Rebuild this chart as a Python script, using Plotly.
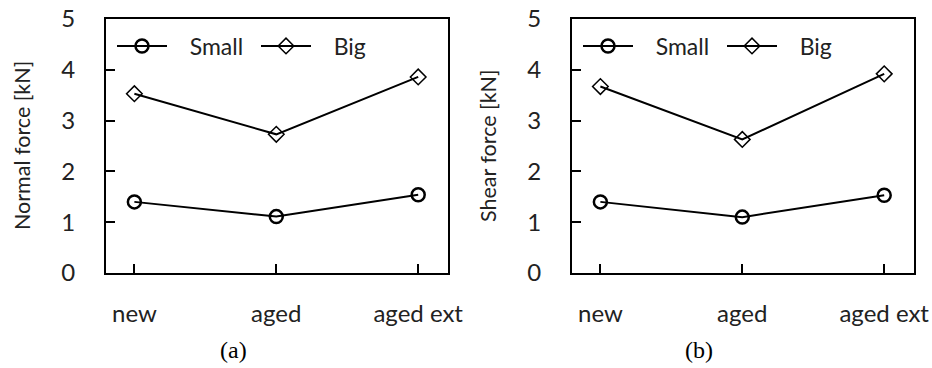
import plotly.graph_objects as go

categories = ["new", "aged", "aged ext"]
normal_small = [1.40, 1.11, 1.54]
normal_big = [3.53, 2.73, 3.86]
shear_small = [1.40, 1.10, 1.53]
shear_big = [3.67, 2.63, 3.92]
y_ticks = [0, 1, 2, 3, 4, 5]
series_names = ["Small", "Big"]
captions = ["(a)", "(b)"]
y_titles = ["Normal force [kN]", "Shear force [kN]"]

FONT = "Lato"
TXT = "#222"
PAD = "\u00a0\u00a0\u00a0"
fig = go.Figure()

xpos = list(range(len(categories)))
panels = [(normal_small, normal_big, "x", "y", "legend"),
          (shear_small, shear_big, "x2", "y2", "legend2")]
for small, big, xa, ya, lg in panels:
    fig.add_trace(go.Scatter(x=xpos, y=small, name=PAD + series_names[0], mode="lines+markers",
                             xaxis=xa, yaxis=ya, legend=lg,
                             line=dict(color="black", width=2),
                             marker=dict(symbol="circle-open", size=13, color="black",
                                         line=dict(width=2.5, color="black"))))
    fig.add_trace(go.Scatter(x=xpos, y=big, name=PAD + series_names[1], mode="lines+markers",
                             xaxis=xa, yaxis=ya, legend=lg,
                             line=dict(color="black", width=2),
                             marker=dict(symbol="diamond-open", size=12, color="black",
                                         line=dict(width=1.5, color="black"))))

xcommon = dict(range=[-0.2, 2.21], tickvals=xpos, ticktext=categories,
               ticks="inside", ticklen=9, tickwidth=1.5, tickcolor="black",
               showline=True, linecolor="black", linewidth=2, mirror=True,
               showgrid=False, zeroline=False, ticklabelstandoff=18, automargin=False,
               tickfont=dict(family=FONT, size=24, color=TXT))
ycommon = dict(range=[0, 5], tickvals=y_ticks,
               ticks="inside", ticklen=9, tickwidth=1.5, tickcolor="black",
               showline=True, linecolor="black", linewidth=2, mirror=True,
               showgrid=False, zeroline=False, ticklabelstandoff=24, automargin=False,
               tickfont=dict(family=FONT, size=24, color=TXT))

ydom = [1 - 273 / 368, 1 - 19 / 368]
legcommon = dict(orientation="h", xanchor="left", yanchor="middle",
                 bgcolor="rgba(0,0,0,0)", font=dict(family=FONT, size=23, color=TXT),
                 entrywidth=79, itemwidth=50)
fig.update_layout(
    width=932, height=368,
    margin=dict(l=0, r=0, t=0, b=0, autoexpand=False),
    plot_bgcolor="white", paper_bgcolor="white",
    xaxis=dict(domain=[106 / 932, 448 / 932], anchor="y", **xcommon),
    yaxis=dict(domain=ydom, anchor="x", **ycommon),
    xaxis2=dict(domain=[572 / 932, 914 / 932], anchor="y2", **xcommon),
    yaxis2=dict(domain=ydom, anchor="x2", **ycommon),
    legend=dict(x=112 / 932, y=1 - 46 / 368, **legcommon),
    legend2=dict(x=578 / 932, y=1 - 46 / 368, **legcommon),
    showlegend=True,
)

for i, (cap, ttl) in enumerate(zip(captions, y_titles)):
    fig.add_annotation(text=cap, x=(233 + 466 * i) / 932, y=1 - 350 / 368,
                       xref="paper", yref="paper", showarrow=False,
                       xanchor="center", yanchor="middle",
                       font=dict(family="Liberation Serif", size=24, color="black"))
    fig.add_annotation(text=ttl, x=(22 + 466 * i) / 932, y=1 - 146 / 368,
                       xref="paper", yref="paper", showarrow=False, textangle=-90,
                       xanchor="center", yanchor="middle",
                       font=dict(family=FONT, size=21.5, color=TXT))

fig.write_html("out.html", config={"displayModeBar": False},
               post_script="document.body.style.margin='0';")
